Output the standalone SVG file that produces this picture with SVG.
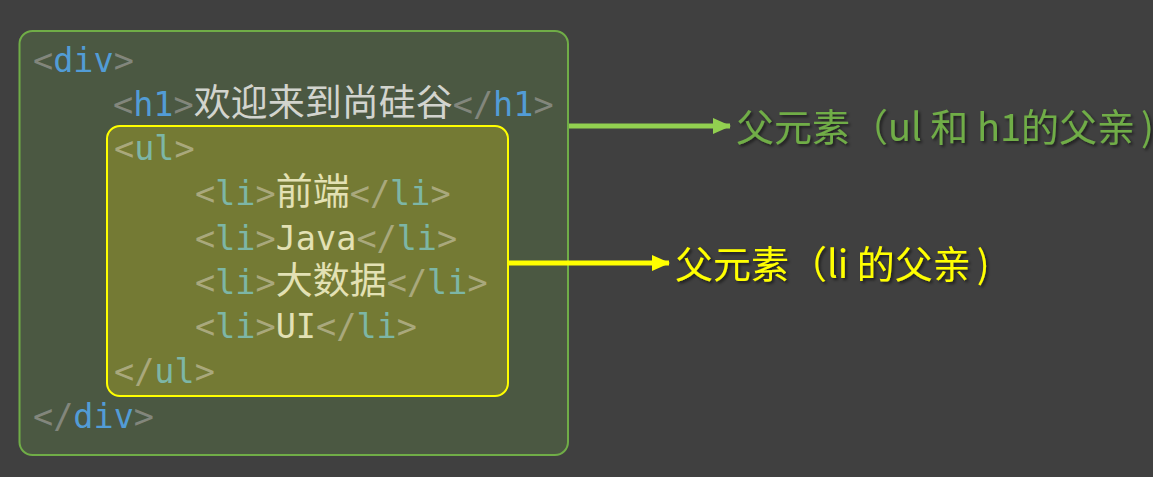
<svg xmlns="http://www.w3.org/2000/svg" width="1153" height="477" viewBox="0 0 1153 477">
<style>
.code{font-family:"DejaVu Sans Mono","Noto Sans CJK SC",monospace;font-size:33.5px}
.cjk{font-family:"Noto Sans CJK SC","Noto Sans",sans-serif;font-size:37px}
.b1{fill:#82867c}.t1{fill:#529cd6}.c1{fill:#d2d4ce}
.b2{fill:#a9a87c}.t2{fill:#7db6a6}.c2{fill:#e3e1b4}
.lbl{font-family:"Noto Sans CJK SC","Noto Sans",sans-serif;font-size:38px;filter:url(#sh)}
</style>
<defs>
<filter id="sh" x="-5%" y="-20%" width="110%" height="150%">
<feDropShadow dx="2" dy="2" stdDeviation="1.5" flood-color="#000" flood-opacity="0.55"/>
</filter>
<marker id="ag" markerUnits="userSpaceOnUse" markerWidth="18" markerHeight="16" refX="17" refY="8" orient="auto">
<polygon points="0,0 18,8 0,16" fill="#92d050"/>
</marker>
<marker id="ay" markerUnits="userSpaceOnUse" markerWidth="18" markerHeight="16" refX="17" refY="8" orient="auto">
<polygon points="0,0 18,8 0,16" fill="#ffff00"/>
</marker>
</defs>
<rect x="0" y="0" width="1153" height="477" fill="#404040"/>
<g id="div-box">
<rect x="19.5" y="31" width="548.5" height="424" rx="13" fill="#4b5842" stroke="#70ad47" stroke-width="2"/>
<text class="code" y="72"><tspan x="33" class="b1">&lt;</tspan><tspan x="53.2" class="t1">div</tspan><tspan x="113.7" class="b1">&gt;</tspan></text>
<text class="code" y="116"><tspan x="113" class="b1">&lt;</tspan><tspan x="133.2" class="t1">h1</tspan><tspan x="173.5" class="b1">&gt;</tspan><tspan x="193.8" class="cjk c1">欢迎来到尚硅谷</tspan><tspan x="452.8" class="b1">&lt;/</tspan><tspan x="493.1" class="t1">h1</tspan><tspan x="533.5" class="b1">&gt;</tspan></text>
<text class="code" y="428"><tspan x="33" class="b1">&lt;/</tspan><tspan x="73.3" class="t1">div</tspan><tspan x="133.8" class="b1">&gt;</tspan></text>
</g>
<g id="ul-box">
<rect x="107" y="126" width="401" height="270" rx="13" fill="#747a34" stroke="#ffff00" stroke-width="2"/>
<text class="code" y="160"><tspan x="114" class="b2">&lt;</tspan><tspan x="134.2" class="t2">ul</tspan><tspan x="174.5" class="b2">&gt;</tspan></text>
<text class="code" y="205"><tspan x="195" class="b2">&lt;</tspan><tspan x="215.2" class="t2">li</tspan><tspan x="255.5" class="b2">&gt;</tspan><tspan x="275.8" class="cjk c2">前端</tspan><tspan x="349.8" class="b2">&lt;/</tspan><tspan x="390.1" class="t2">li</tspan><tspan x="430.5" class="b2">&gt;</tspan></text>
<text class="code" y="250"><tspan x="195" class="b2">&lt;</tspan><tspan x="215.2" class="t2">li</tspan><tspan x="255.5" class="b2">&gt;</tspan><tspan x="275.7" class="c2">Java</tspan><tspan x="356.4" class="b2">&lt;/</tspan><tspan x="396.7" class="t2">li</tspan><tspan x="437" class="b2">&gt;</tspan></text>
<text class="code" y="294"><tspan x="195" class="b2">&lt;</tspan><tspan x="215.2" class="t2">li</tspan><tspan x="255.5" class="b2">&gt;</tspan><tspan x="275.8" class="cjk c2">大数据</tspan><tspan x="386.8" class="b2">&lt;/</tspan><tspan x="427.1" class="t2">li</tspan><tspan x="467.5" class="b2">&gt;</tspan></text>
<text class="code" y="338"><tspan x="195" class="b2">&lt;</tspan><tspan x="215.2" class="t2">li</tspan><tspan x="255.5" class="b2">&gt;</tspan><tspan x="275.7" class="c2">UI</tspan><tspan x="316" class="b2">&lt;/</tspan><tspan x="356.4" class="t2">li</tspan><tspan x="396.7" class="b2">&gt;</tspan></text>
<text class="code" y="383"><tspan x="114" class="b2">&lt;/</tspan><tspan x="154.3" class="t2">ul</tspan><tspan x="194.7" class="b2">&gt;</tspan></text>
</g>
<g id="connectors">
<line x1="569" y1="126" x2="730" y2="126" stroke="#92d050" stroke-width="5" marker-end="url(#ag)"/>
<line x1="509" y1="263" x2="669" y2="263" stroke="#ffff00" stroke-width="5" marker-end="url(#ay)"/>
</g>
<g id="label-div">
<text class="lbl" x="736" y="141" fill="#70ad47">父元素（ul 和 h1的父亲<tspan dx="6">)</tspan></text>
</g>
<g id="label-ul">
<text class="lbl" x="675" y="278" fill="#ffff00">父元素（li 的父亲<tspan dx="6">)</tspan></text>
</g>
</svg>
